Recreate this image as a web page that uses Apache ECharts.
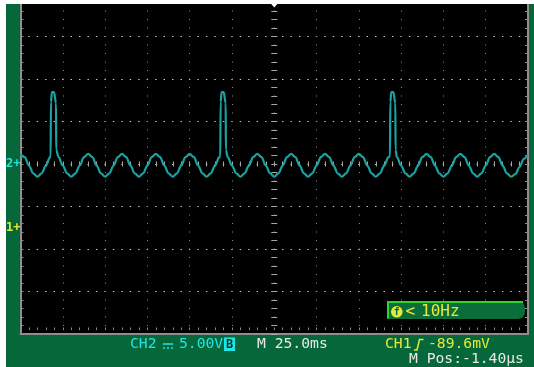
<!DOCTYPE html>
<html>
<head>
<meta charset="utf-8">
<style>
  html, body { margin: 0; padding: 0; background: #ffffff; }
  #scope { width: 534px; height: 367px; }
</style>
<script src="https://cdn.jsdelivr.net/npm/echarts@6.0.0/dist/echarts.min.js"></script>
</head>
<body>
<div id="scope"></div>
<script>
// Horizontal: 25 ms/div over 12 divisions, trigger point at 0 ms
const timeRangeMs = [-150, 150];
const timeDivMs = 25;
const timeMinorMs = 5;

// Vertical (CH2): 5 V/div over 8 divisions
const voltRange = [-20, 20];
const voltDiv = 5;
const voltMinor = 1;

// CH2 acquisition: 50 Hz hum with a pulse every 100 ms, [ms, V]
const ch2Trace = [
  [-150, 1.18], [-147.5, 0.80], [-145, -0.18], [-142.5, -1.10], [-140, -1.50],
  [-137.5, -1.10], [-135, -0.18], [-132.5, 0.80],
  [-132.2, 0.90], [-132.0, 7.30], [-131.4, 8.45], [-130.2, 8.45], [-129.0, 7.15], [-128.9, 1.65],
  [-127.5, 0.80], [-125, -0.18], [-122.5, -1.10], [-120, -1.50],
  [-117.5, -1.10], [-115, -0.18], [-112.5, 0.80], [-110, 1.18],
  [-107.5, 0.80], [-105, -0.18], [-102.5, -1.10], [-100, -1.50],
  [-97.5, -1.10], [-95, -0.18], [-92.5, 0.80], [-90, 1.18],
  [-87.5, 0.80], [-85, -0.18], [-82.5, -1.10], [-80, -1.50],
  [-77.5, -1.10], [-75, -0.18], [-72.5, 0.80], [-70, 1.18],
  [-67.5, 0.80], [-65, -0.18], [-62.5, -1.10], [-60, -1.50],
  [-57.5, -1.10], [-55, -0.18], [-52.5, 0.80], [-50, 1.18],
  [-47.5, 0.80], [-45, -0.18], [-42.5, -1.10], [-40, -1.50],
  [-37.5, -1.10], [-35, -0.18], [-32.5, 0.80],
  [-31.9, 0.90], [-31.7, 7.30], [-31.1, 8.45], [-29.9, 8.45], [-28.7, 7.15], [-28.6, 1.65],
  [-27.5, 0.80], [-25, -0.18], [-22.5, -1.10], [-20, -1.50],
  [-17.5, -1.10], [-15, -0.18], [-12.5, 0.80], [-10, 1.18],
  [-7.5, 0.80], [-5, -0.18], [-2.5, -1.10], [0, -1.50],
  [2.5, -1.10], [5, -0.18], [7.5, 0.80], [10, 1.18],
  [12.5, 0.80], [15, -0.18], [17.5, -1.10], [20, -1.50],
  [22.5, -1.10], [25, -0.18], [27.5, 0.80], [30, 1.18],
  [32.5, 0.80], [35, -0.18], [37.5, -1.10], [40, -1.50],
  [42.5, -1.10], [45, -0.18], [47.5, 0.80], [50, 1.18],
  [52.5, 0.80], [55, -0.18], [57.5, -1.10], [60, -1.50],
  [62.5, -1.10], [65, -0.18], [67.5, 0.80],
  [68.4, 0.90], [68.6, 7.30], [69.2, 8.45], [70.4, 8.45], [71.6, 7.15], [71.7, 1.65],
  [72.5, 0.80], [75, -0.18], [77.5, -1.10], [80, -1.50],
  [82.5, -1.10], [85, -0.18], [87.5, 0.80], [90, 1.18],
  [92.5, 0.80], [95, -0.18], [97.5, -1.10], [100, -1.50],
  [102.5, -1.10], [105, -0.18], [107.5, 0.80], [110, 1.18],
  [112.5, 0.80], [115, -0.18], [117.5, -1.10], [120, -1.50],
  [122.5, -1.10], [125, -0.18], [127.5, 0.80], [130, 1.18],
  [132.5, 0.80], [135, -0.18], [137.5, -1.10], [140, -1.50],
  [142.5, -1.20], [145, -0.35], [147.5, 0.60], [150, 1.10]
];

// Ground reference markers on the left edge (CH2 volts)
const groundMarkerValues = [0, -7.5];
const groundMarkerTexts = ['2+', '1+'];
const groundMarkerStyles = ['c2', 'c1'];

const triggerTimeMs = 0;
const triggerMarkerV = 18.65;

// Readout texts
const ch2Label = 'CH2';
const ch2Scale = '5.00V';
const ch2BwFlag = 'B';
const timebaseText = 'M 25.0ms';
const ch1Label = 'CH1';
const ch1Level = '-89.6mV';
const hPosText = 'M Pos:-1.40\u03bcs';
const freqLess = '<';
const freqText = '10Hz';
const freqIcon = 'f';

// Colours
const GREEN = '#06683a';
const BOX_GREEN = '#0a6d3a';
const LIME = '#2cd42c';
const CYAN = '#1ee6e6';
const YELLOW = '#e8e838';
const WHITE = '#e8e8e8';
const TRACE = '#1aa2a2';
const DOTS = '#8c8c8c';
const DOTS_H = '#cfcfcf';
const RULER = '#a8a8a8';
const BORDER = '#8e8e8e';
const MONO = '"DejaVu Sans Mono", monospace';

const gridBox = { left: 20.5, top: -6, width: 507.5, height: 340 };
const pxPerMinorX = gridBox.width / ((timeRangeMs[1] - timeRangeMs[0]) / timeMinorMs);

function valueAxis(range, extra) {
  return Object.assign({
    type: 'value', min: range[0], max: range[1],
    axisLine: { show: false, onZero: false },
    axisTick: { show: false },
    axisLabel: { show: false },
    splitLine: { show: false }
  }, extra);
}

const chart = echarts.init(document.getElementById('scope'), null, { renderer: 'canvas' });

chart.setOption({
  animation: false,
  backgroundColor: GREEN,
  grid: {
    left: gridBox.left, top: gridBox.top, width: gridBox.width, height: gridBox.height,
    show: true, backgroundColor: '#000000', borderWidth: 0,
    containLabel: false, outerBoundsMode: 'none'
  },
  xAxis: [
    // bottom border
    valueAxis(timeRangeMs, {
      position: 'bottom', interval: timeMinorMs,
      axisLine: { show: true, onZero: false, lineStyle: { color: BORDER, width: 2 } }
    }),
    // row of minor marks just above the bottom border
    valueAxis(timeRangeMs, {
      position: 'bottom', offset: -4, interval: timeMinorMs,
      axisTick: { show: true, inside: true, length: 2.5, lineStyle: { color: DOTS, width: 1 } }
    }),
    // dotted vertical graticule
    valueAxis(timeRangeMs, {
      position: 'top', interval: timeDivMs,
      splitLine: { show: true, lineStyle: { color: DOTS, width: 1, type: [1, 7.5], dashOffset: 0.5 } }
    }),
    // centre horizontal ruler
    valueAxis(timeRangeMs, {
      position: 'bottom', offset: -(gridBox.height / 2 - 2.5), interval: timeMinorMs,
      axisTick: { show: true, inside: true, length: 5, lineStyle: { color: RULER, width: 1 } }
    })
  ],
  yAxis: [
    // left border with ground markers
    valueAxis(voltRange, {
      position: 'left', interval: voltMinor,
      axisLine: { show: true, onZero: false, lineStyle: { color: BORDER, width: 2 } },
      axisTick: { show: true, inside: true, length: 3, lineStyle: { color: BORDER, width: 1 } },
      axisLabel: {
        show: true, customValues: groundMarkerValues, margin: 0,
        formatter: function (v) {
          const i = groundMarkerValues.indexOf(v);
          return i < 0 ? '' : '{' + groundMarkerStyles[i] + '|' + groundMarkerTexts[i] + '}';
        },
        rich: {
          c2: { color: CYAN, fontFamily: MONO, fontSize: 12, fontWeight: 'bold' },
          c1: { color: YELLOW, fontFamily: MONO, fontSize: 12, fontWeight: 'bold' }
        }
      }
    }),
    // right border
    valueAxis(voltRange, {
      position: 'right', interval: voltMinor,
      axisLine: { show: true, onZero: false, lineStyle: { color: BORDER, width: 2 } },
      axisTick: { show: true, inside: true, length: 3, lineStyle: { color: BORDER, width: 1 } }
    }),
    // dotted horizontal graticule
    valueAxis(voltRange, {
      position: 'left', interval: voltDiv,
      splitLine: { show: true, lineStyle: { color: DOTS_H, width: 1.2, type: [1.4, pxPerMinorX - 1.4], dashOffset: 0.7 } }
    }),
    // centre vertical ruler
    valueAxis(voltRange, {
      position: 'left', offset: -(gridBox.width / 2 - 3), interval: voltMinor,
      axisTick: { show: true, inside: true, length: 6, lineStyle: { color: RULER, width: 1 } }
    })
  ],
  series: [{
    type: 'line',
    xAxisIndex: 0, yAxisIndex: 0,
    data: ch2Trace,
    showSymbol: false, symbol: 'none',
    smooth: 0.35, smoothMonotone: 'x',
    clip: true,
    lineStyle: { color: TRACE, width: 2.2 },
    z: 5,
    markPoint: {
      silent: true,
      symbol: 'triangle', symbolRotate: 180, symbolSize: [7, 4],
      itemStyle: { color: '#ffffff' },
      label: { show: false },
      data: [{ coord: [triggerTimeMs, triggerMarkerV] }]
    }
  }],
  graphic: [
    // cropped margins of the screen capture
    { type: 'rect', shape: { x: 0, y: 0, width: 534, height: 4 }, style: { fill: '#ffffff' }, z: 100 },
    { type: 'rect', shape: { x: 0, y: 0, width: 6, height: 367 }, style: { fill: '#ffffff' }, z: 100 },

    // frequency readout box
    { type: 'rect', shape: { x: 387, y: 301, width: 138, height: 18, r: [0, 7, 7, 0] }, style: { fill: BOX_GREEN }, z: 50 },
    { type: 'polyline', shape: { points: [[388, 318.5], [388, 302], [523, 302]] }, style: { stroke: LIME, lineWidth: 2, fill: null }, z: 51 },
    { type: 'circle', shape: { cx: 396.8, cy: 311.8, r: 5.8 }, style: { fill: YELLOW }, z: 52 },
    { type: 'text', x: 396.8, y: 312.3, style: { text: freqIcon, fill: BOX_GREEN, font: 'bold 10px ' + MONO, align: 'center', verticalAlign: 'middle' }, z: 53 },
    { type: 'text', x: 405.5, y: 312, style: { text: freqLess, fill: YELLOW, font: '16px ' + MONO, align: 'left', verticalAlign: 'middle' }, z: 52 },
    { type: 'text', x: 421, y: 312, style: { text: freqText, fill: YELLOW, font: '16px ' + MONO, align: 'left', verticalAlign: 'middle' }, z: 52 },

    // CH2 readout
    { type: 'text', x: 130, y: 344.5, style: { text: ch2Label, fill: CYAN, font: '14.7px ' + MONO, align: 'left', verticalAlign: 'middle' }, z: 50 },
    { type: 'line', shape: { x1: 163, y1: 344, x2: 173, y2: 344 }, style: { stroke: CYAN, lineWidth: 1.5 }, z: 50 },
    { type: 'line', shape: { x1: 163, y1: 348, x2: 173, y2: 348 }, style: { stroke: CYAN, lineWidth: 1.5, lineDash: [2, 2] }, z: 50 },
    { type: 'text', x: 179, y: 344.5, style: { text: ch2Scale, fill: CYAN, font: '14.7px ' + MONO, align: 'left', verticalAlign: 'middle' }, z: 50 },
    { type: 'rect', shape: { x: 224, y: 337.5, width: 11, height: 13.5 }, style: { fill: CYAN }, z: 50 },
    { type: 'text', x: 229.5, y: 344.5, style: { text: ch2BwFlag, fill: '#0b3b2a', font: 'bold 12px ' + MONO, align: 'center', verticalAlign: 'middle' }, z: 51 },

    // timebase
    { type: 'text', x: 257, y: 344.5, style: { text: timebaseText, fill: WHITE, font: '14.7px ' + MONO, align: 'left', verticalAlign: 'middle' }, z: 50 },

    // CH1 trigger readout
    { type: 'text', x: 385, y: 344.5, style: { text: ch1Label, fill: YELLOW, font: '14.7px ' + MONO, align: 'left', verticalAlign: 'middle' }, z: 50 },
    { type: 'polyline', shape: { points: [[414, 350], [417, 350], [419.5, 339.5], [423.5, 339.5]] }, style: { stroke: YELLOW, lineWidth: 1.5, fill: null }, z: 50 },
    { type: 'text', x: 428, y: 344.5, style: { text: ch1Level, fill: YELLOW, font: '14.7px ' + MONO, align: 'left', verticalAlign: 'middle' }, z: 50 },

    // horizontal position
    { type: 'text', x: 409, y: 359.5, style: { text: hPosText, fill: WHITE, font: '14.7px ' + MONO, align: 'left', verticalAlign: 'middle' }, z: 50 }
  ]
});
</script>
</body>
</html>
